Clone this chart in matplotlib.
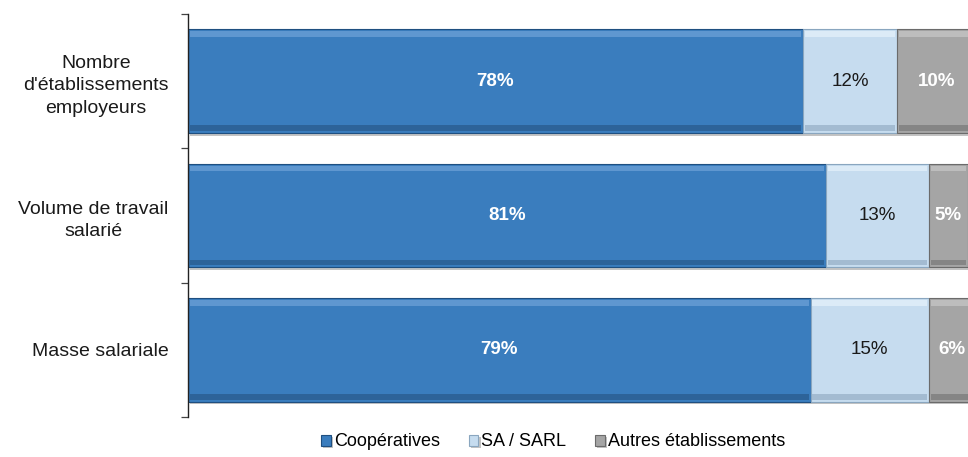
import matplotlib.pyplot as plt
import matplotlib.patheffects as pe
import numpy as np

plt.rcParams['font.family'] = ['Liberation Sans', 'DejaVu Sans']

categories = ["Nombre\nd'établissements\nemployeurs", "Volume de travail\nsalarié", "Masse salariale"]
series_names = ["Coopératives", "SA / SARL", "Autres établissements"]
cooperatives = [78, 81, 79]
sa_sarl = [12, 13, 15]
autres = [10, 5, 6]

colors = ["#3a7dbe", "#c6dcef", "#a5a5a5"]
edges = ["#1f4f80", "#8aa6bf", "#6b6b6b"]
light = ["#5f97d0", "#dcebf7", "#bdbdbd"]
dark = ["#2d6399", "#a3bbd1", "#858585"]
text_colors = ["white", "#1a1a1a", "white"]
text_weights = ["bold", "normal", "bold"]

fig = plt.figure(figsize=(9.68, 4.57), dpi=100)
ax = fig.add_axes([188 / 968, 1 - 417 / 457, 788 / 968, 403 / 457])

y = np.arange(len(categories))
h = 0.77
left = np.zeros(len(categories))
handles = []
for k, vals in enumerate([cooperatives, sa_sarl, autres]):
    vals = np.array(vals, dtype=float)
    b = ax.barh(y, vals, left=left, height=h, color=colors[k], edgecolor=edges[k], linewidth=0.8,
                path_effects=[pe.SimplePatchShadow(offset=(1.5, -2), shadow_rgbFace='#888888', alpha=0.5), pe.Normal()],
                zorder=2)
    # bevel effect
    ax.barh(y - h / 2 + 0.035, vals - 0.5, left=left + 0.25, height=0.04, color=light[k], linewidth=0, zorder=3)
    ax.barh(y + h / 2 - 0.035, vals - 0.5, left=left + 0.25, height=0.04, color=dark[k], linewidth=0, zorder=3)
    handles.append(b)
    for yi, l, v in zip(y, left, vals):
        ax.text(l + v / 2, yi, f"{int(v)}%", ha='center', va='center', fontsize=13.5,
                color=text_colors[k], fontweight=text_weights[k], zorder=4)
    left = left + vals

ax.set_xlim(0, 100)
ax.set_ylim(len(categories) - 0.5, -0.5)
ax.set_xticks([])
ax.set_yticks(np.arange(len(categories) + 1) - 0.5)
ax.set_yticklabels([])
ax.set_yticks(y, minor=True)
ax.set_yticklabels(categories, minor=True, multialignment='center', linespacing=1.42,
                   fontsize=14, color='#1a1a1a')
ax.tick_params(axis='y', which='major', length=5, width=0.9, color='#444444')
ax.tick_params(axis='y', which='minor', length=0, pad=14)
for s in ['top', 'right', 'bottom']:
    ax.spines[s].set_visible(False)
ax.spines['left'].set_color('#222222')
ax.spines['left'].set_linewidth(1.0)

fig.legend(handles, series_names, loc='center', bbox_to_anchor=(553 / 968, 1 - 442 / 457), ncol=3,
           frameon=False, fontsize=13, handlelength=0.55, handleheight=0.55, handletextpad=0.15,
           columnspacing=1.6)

fig.savefig("out.png", dpi=100)
